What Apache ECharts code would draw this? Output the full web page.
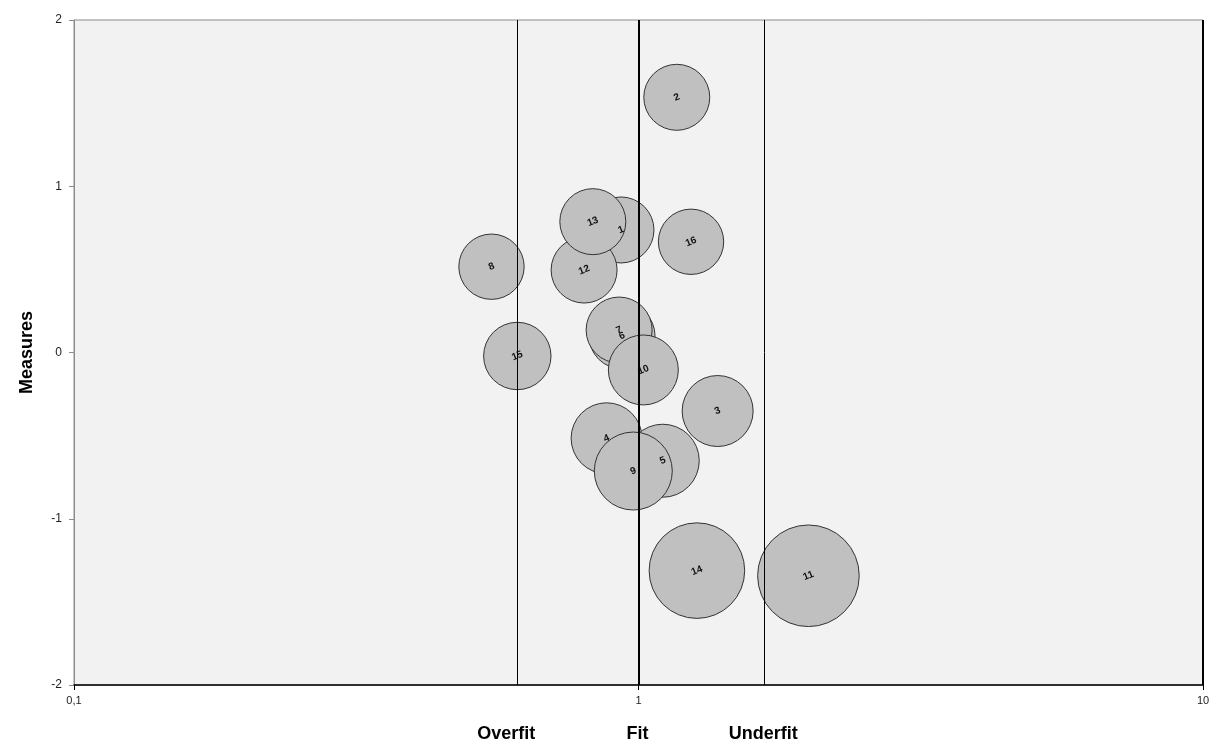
<!DOCTYPE html>
<html lang="en">
<head>
    <meta charset="UTF-8">
    <title>Bubble chart of item fit</title>
    <script src="https://cdn.jsdelivr.net/npm/echarts@6/dist/echarts.min.js"></script>
</head>
<body style="margin:0; background:#fff;">
<div id="main" style="width: 1221px; height: 745px;"></div>
<script type="text/javascript">
    // item labels, fit (x, log scale), measure (y), bubble size (standard error)
    const items = ['1','2','3','4','5','6','7','8','9','10','11','12','13','14','15','16'];
    const fit = [0.931, 1.169, 1.381, 0.878, 1.104, 0.935, 0.924, 0.549, 0.979, 1.020, 2.00, 0.801, 0.830, 1.269, 0.610, 1.239];
    const measure = [0.737, 1.535, -0.352, -0.516, -0.651, 0.10, 0.135, 0.516, -0.713, -0.105, -1.343, 0.496, 0.787, -1.312, -0.021, 0.666];
    const se = [0.30, 0.30, 0.347, 0.347, 0.367, 0.30, 0.30, 0.294, 0.419, 0.337, 0.711, 0.30, 0.30, 0.629, 0.313, 0.294];
    const xTicks = [0.1, 1, 10];
    const yTicks = [-2, -1, 0, 1, 2];
    const fitLines = [0.61, 1, 1.67];
    const fitNames = ['Overfit', 'Fit', 'Underfit'];

    let data = [];
    for (let i = 0; i < items.length; i++) {
        data.push([fit[i], measure[i], se[i], items[i]]);
    }

    let lines = fitLines.map(function (v, i) {
        return {
            xAxis: v,
            lineStyle: {color: '#000', width: v === 1 ? 2 : 1, type: 'solid'},
            label: {
                show: true, position: 'start', distance: 40,
                offset: [i === 0 ? -11 : -1, 0],
                formatter: fitNames[i],
                fontFamily: 'Liberation Sans', fontSize: 18, fontWeight: 'bold', color: '#000'
            }
        };
    });
    lines.push({xAxis: xTicks[2], lineStyle: {color: '#000', width: 2, type: 'solid'}, label: {show: false}});

    let myChart = echarts.init(document.getElementById('main'));
    const option = {
        animation: false,
        grid: {
            left: 74, right: 18, top: 20, bottom: 60,
            show: true, backgroundColor: '#f2f2f2', borderColor: '#8c8c8c', borderWidth: 1
        },
        xAxis: {
            type: 'log', logBase: 10, min: xTicks[0], max: xTicks[2],
            axisLine: {show: true, onZero: false, lineStyle: {color: '#000', width: 1.5}},
            axisTick: {show: true, inside: false, length: 5, lineStyle: {color: '#000'}},
            minorTick: {show: false},
            splitLine: {show: false},
            axisLabel: {
                margin: 10, fontFamily: 'Liberation Sans', fontSize: 11, color: '#222',
                formatter: function (v) { return String(v).replace('.', ','); }
            }
        },
        yAxis: {
            type: 'value', min: yTicks[0], max: yTicks[4], interval: 1,
            name: 'Measures', nameLocation: 'middle', nameGap: 38,
            nameTextStyle: {fontFamily: 'Liberation Sans', fontSize: 18, fontWeight: 'bold', color: '#000'},
            axisLine: {show: true, lineStyle: {color: '#8c8c8c'}},
            axisTick: {show: true, inside: false, length: 5, lineStyle: {color: '#8c8c8c'}},
            splitLine: {show: false},
            axisLabel: {margin: 12, fontFamily: 'Liberation Sans', fontSize: 12, color: '#222'}
        },
        series: [{
            type: 'scatter',
            data: data,
            symbol: 'circle',
            symbolSize: function (d) { return 66 * Math.sqrt(d[2] / 0.30); },
            itemStyle: {color: '#c0c0c0', borderColor: '#333', borderWidth: 1, opacity: 1},
            label: {
                show: true, position: 'inside', rotate: 22,
                formatter: function (p) { return p.data[3]; },
                fontFamily: 'Liberation Sans', fontSize: 10, fontWeight: 'bold', color: '#111'
            },
            emphasis: {disabled: true},
            markLine: {
                silent: true, symbol: 'none', animation: false,
                data: lines
            }
        }]
    };
    myChart.setOption(option);
</script>
</body>
</html>
